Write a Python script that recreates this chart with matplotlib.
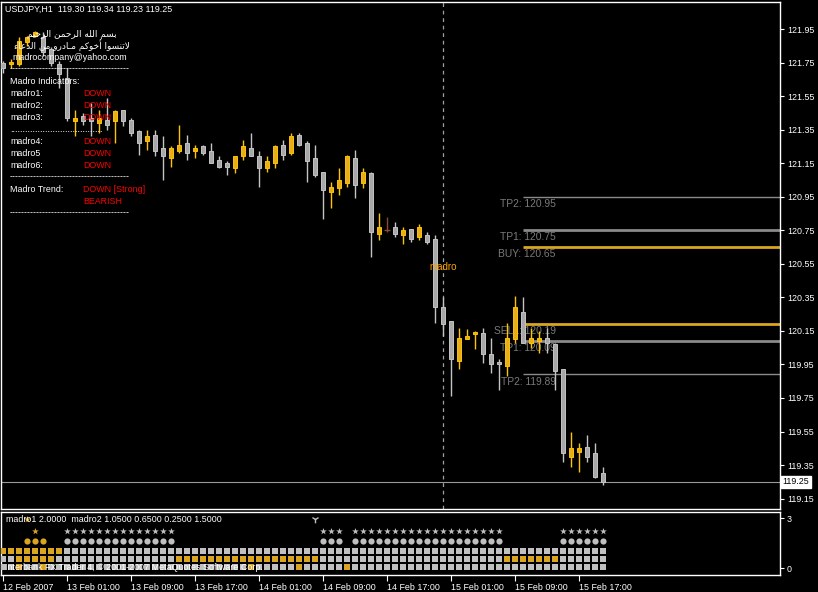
import matplotlib
matplotlib.use('Agg')
import matplotlib.pyplot as plt

plt.rcParams['font.family'] = ['Liberation Sans', 'DejaVu Sans']

# USDJPY H1 bars, 12 Feb 2007 17:00 .. 15 Feb 2007 20:00
opens = [121.75, 121.74, 121.74, 121.87, 121.91, 121.90, 121.83, 121.74, 121.66, 121.40,
         121.43, 121.42, 121.39, 121.41, 121.40, 121.47, 121.41, 121.34, 121.28, 121.32,
         121.24, 121.18, 121.22, 121.27, 121.22, 121.25, 121.22, 121.17, 121.15, 121.12,
         121.19, 121.24, 121.19, 121.12, 121.15, 121.26, 121.21, 121.32, 121.27, 121.18,
         121.10, 120.98, 121.00, 121.03, 121.18, 121.03, 121.09, 120.73, 120.75, 120.77,
         120.72, 120.76, 120.71, 120.72, 120.70, 120.29, 120.21, 119.97, 120.10, 120.13,
         120.14, 120.01, 119.96, 119.94, 120.10, 120.26, 120.08, 120.09, 120.11, 120.07,
         119.92, 119.40, 119.43, 119.46, 119.42, 119.30]
highs = [121.76, 121.77, 121.90, 121.91, 121.94, 121.93, 121.84, 121.76, 121.72, 121.47,
         121.45, 121.51, 121.47, 121.54, 121.47, 121.47, 121.42, 121.35, 121.35, 121.35,
         121.31, 121.25, 121.38, 121.32, 121.26, 121.26, 121.27, 121.19, 121.16, 121.19,
         121.29, 121.33, 121.22, 121.19, 121.26, 121.29, 121.33, 121.33, 121.28, 121.26,
         121.10, 121.04, 121.12, 121.20, 121.23, 121.12, 121.10, 120.85, 120.83, 120.80,
         120.77, 120.76, 120.79, 120.74, 120.72, 120.35, 120.21, 120.17, 120.16, 120.15,
         120.17, 120.11, 119.98, 120.20, 120.36, 120.35, 120.17, 120.15, 120.17, 120.08,
         119.92, 119.55, 119.48, 119.53, 119.48, 119.34]
lows = [121.69, 121.72, 121.73, 121.85, 121.90, 121.79, 121.73, 121.60, 121.40, 121.31,
        121.38, 121.31, 121.33, 121.35, 121.27, 121.37, 121.31, 121.20, 121.23, 121.19,
        121.05, 121.13, 121.21, 121.17, 121.18, 121.20, 121.15, 121.12, 121.08, 121.09,
        121.17, 121.19, 121.01, 121.10, 121.12, 121.17, 121.20, 121.25, 121.04, 121.07,
        120.82, 120.88, 120.96, 121.01, 120.94, 121.00, 120.59, 120.69, 120.74, 120.71,
        120.67, 120.68, 120.69, 120.67, 120.20, 120.12, 119.76, 119.92, 120.10, 120.04,
        119.96, 119.90, 119.80, 119.88, 120.08, 120.08, 120.05, 120.02, 120.02, 119.80,
        119.37, 119.34, 119.31, 119.37, 119.27, 119.23]
closes = [121.72, 121.75, 121.88, 121.90, 121.93, 121.81, 121.75, 121.68, 121.42, 121.42,
          121.40, 121.40, 121.42, 121.38, 121.46, 121.40, 121.33, 121.27, 121.31, 121.22,
          121.19, 121.24, 121.26, 121.21, 121.24, 121.21, 121.15, 121.13, 121.13, 121.19,
          121.25, 121.19, 121.12, 121.16, 121.25, 121.20, 121.31, 121.26, 121.16, 121.08,
          120.99, 121.01, 121.05, 121.19, 121.02, 121.10, 120.74, 120.77, 120.75, 120.73,
          120.75, 120.70, 120.77, 120.68, 120.29, 120.19, 119.98, 120.11, 120.12, 120.14,
          120.01, 119.95, 119.95, 120.11, 120.29, 120.08, 120.11, 120.11, 120.08, 119.91,
          119.42, 119.45, 119.45, 119.40, 119.28, 119.25]

date_bars = [0, 8, 16, 24, 32, 40, 48, 56, 64, 72]
date_labels = ['12 Feb 2007', '13 Feb 01:00', '13 Feb 09:00', '13 Feb 17:00', '14 Feb 01:00',
               '14 Feb 09:00', '14 Feb 17:00', '15 Feb 01:00', '15 Feb 09:00', '15 Feb 17:00']
price_ticks = [119.15, 119.35, 119.55, 119.75, 119.95, 120.15, 120.35,
               120.55, 120.75, 120.95, 121.15, 121.35, 121.55, 121.75, 121.95]

# trade levels drawn by the indicator
level_names = ['TP2', 'TP1', 'BUY', 'SELL', 'TP1', 'TP2']
level_values = [120.95, 120.75, 120.65, 120.19, 120.09, 119.89]

# madro sub-window signals (bar indices)
gold_top_star = [3]
gold_stars = [4]
gold_dots = [3, 4, 5]
gray_runs = [(8, 21), (40, 42), (44, 62), (70, 75)]   # stars + dots
arrow_bars = [39]
row1_gold = [0, 1, 2, 3, 4, 5, 6, 7]
row2_gold = [2, 3, 4, 5, 6] + list(range(22, 40)) + list(range(63, 70))
row3_gold = [2, 5, 31, 37, 43]

gold = '#daa520'
gray = '#c0c0c0'
W, H = 818, 592


def px(x, y):
    return x / W, 1 - y / H


# small arabic shaper (presentation forms, visual order) - no bidi support in matplotlib
AR_FORMS = {
    'ء': (0xFE80,), 'أ': (0xFE83, 0xFE84), 'ا': (0xFE8D, 0xFE8E),
    'ب': (0xFE8F, 0xFE90, 0xFE91, 0xFE92), 'ت': (0xFE95, 0xFE96, 0xFE97, 0xFE98),
    'ح': (0xFEA1, 0xFEA2, 0xFEA3, 0xFEA4), 'خ': (0xFEA5, 0xFEA6, 0xFEA7, 0xFEA8),
    'د': (0xFEA9, 0xFEAA), 'ر': (0xFEAD, 0xFEAE),
    'س': (0xFEB1, 0xFEB2, 0xFEB3, 0xFEB4), 'ع': (0xFEC9, 0xFECA, 0xFECB, 0xFECC),
    'ك': (0xFED9, 0xFEDA, 0xFEDB, 0xFEDC), 'ل': (0xFEDD, 0xFEDE, 0xFEDF, 0xFEE0),
    'م': (0xFEE1, 0xFEE2, 0xFEE3, 0xFEE4), 'ن': (0xFEE5, 0xFEE6, 0xFEE7, 0xFEE8),
    'ه': (0xFEE9, 0xFEEA, 0xFEEB, 0xFEEC), 'و': (0xFEED, 0xFEEE),
    'ي': (0xFEF1, 0xFEF2, 0xFEF3, 0xFEF4),
}


def joins(c):
    return c == 'ـ' or len(AR_FORMS.get(c, ())) > 1


def joins_next(c):
    return c == 'ـ' or len(AR_FORMS.get(c, ())) == 4


def shape_ar(s):
    out = []
    i = 0
    while i < len(s):
        c = s[i]
        prev = s[i - 1] if i > 0 else ' '
        nxt = s[i + 1] if i + 1 < len(s) else ' '
        if c == 'ل' and nxt in 'اأ':
            lig = {'ا': (0xFEFB, 0xFEFC), 'أ': (0xFEF7, 0xFEF8)}[nxt]
            out.append(chr(lig[1] if joins_next(prev) else lig[0]))
            i += 2
            continue
        if c in AR_FORMS:
            f = AR_FORMS[c]
            p = joins_next(prev) and len(f) > 1
            n = joins(nxt) and len(f) == 4
            if p and n:
                out.append(chr(f[3]))
            elif p:
                out.append(chr(f[1]))
            elif n:
                out.append(chr(f[2]))
            else:
                out.append(chr(f[0]))
        else:
            out.append(c)
        i += 1
    return ''.join(reversed(out))


fig = plt.figure(figsize=(W / 100, H / 100), dpi=100, facecolor='black')
ax = fig.add_axes([1 / W, 1 - 509 / H, 779 / W, 507 / H], facecolor='black')
ax2 = fig.add_axes([1 / W, 1 - 575 / H, 779 / W, 63 / H], facecolor='black', sharex=ax)

# candles
for i in range(len(opens)):
    o, h, l, c = opens[i], highs[i], lows[i], closes[i]
    if c > o:
        body, edge = '#e8ad1e', '#ffc400'
    elif c < o:
        body, edge = '#a8a8a8', '#c4c4c4'
    else:
        body, edge = '#8b4a2b', '#8b4a2b'
    ax.vlines(i, l, h, color=edge, lw=1, zorder=3)
    if c == o:
        ax.hlines(c, i - 0.35, i + 0.35, color=edge, lw=1, zorder=3)
    else:
        ax.bar(i, max(abs(c - o), 0.012), bottom=min(o, c), width=0.62,
               color=body, edgecolor=edge, lw=0.7, zorder=4)

# indicator levels
lvl_color = ['#8a8a8a', '#8a8a8a', gold, gold, '#8a8a8a', '#8a8a8a']
lvl_width = [1, 2, 2, 2, 2, 1]
for name, v, col, lw in zip(level_names, level_values, lvl_color, lvl_width):
    ax.hlines(v, 65, 98, color=col, lw=lw, zorder=2)
    ax.text(69.1, v - 0.013, f'{name}: {v:.2f}', color='#7a7a7a', fontsize=7.4,
            ha='right', va='top', zorder=2)

ax.axvline(55, color='#a0a0a0', lw=0.9, ls=(0, (3, 3)), zorder=1)
ax.axhline(closes[-1], color='#9a9a9a', lw=0.8, zorder=1)
ax.text(55, 120.53, 'madro', color='#ffa500', fontsize=7, ha='center', va='center', zorder=5)
ax.text(1.003, closes[-1], f'{closes[-1]:.2f}', transform=ax.get_yaxis_transform(),
        color='black', fontsize=6.4, ha='left', va='center', clip_on=False, zorder=10,
        bbox=dict(facecolor='white', edgecolor='white', pad=1.2))

ax.set_xlim(-0.25, 97.125)
ax.set_ylim(119.088, 122.111)
ax.set_yticks(price_ticks)
ax.set_yticklabels([f'{t:.2f}' for t in price_ticks])
ax.yaxis.tick_right()
ax.tick_params(axis='y', colors='white', labelsize=6.4, length=3, pad=2)
ax.tick_params(axis='x', bottom=False, labelbottom=False)
for sp in ax.spines.values():
    sp.set_color('white')
    sp.set_linewidth(1)

# sub window
row_y = [0.06, 0.54, 1.02, 1.62, 2.22, 2.94]
all_bars = list(range(len(opens)))
for row, gold_list in zip(row_y[:3], [row3_gold, row2_gold, row1_gold]):
    cols = [gold if b in gold_list else gray for b in all_bars]
    ax2.scatter(all_bars, [row] * len(all_bars), marker='s', s=19, c=cols, lw=0, zorder=3)
gray_bars = [b for a, z in gray_runs for b in range(a, z + 1)]
ax2.scatter(gray_bars, [row_y[3]] * len(gray_bars), marker='o', s=20, c=gray, lw=0)
ax2.scatter(gray_bars, [row_y[4]] * len(gray_bars), marker='*', s=26, c=gray, lw=0)
ax2.scatter(gold_dots, [row_y[3]] * len(gold_dots), marker='o', s=20, c=gold, lw=0)
ax2.scatter(gold_stars, [row_y[4]] * len(gold_stars), marker='*', s=26, c=gold, lw=0)
ax2.scatter(gold_top_star, [row_y[5]] * len(gold_top_star), marker='*', s=26, c=gold, lw=0)
ax2.scatter(arrow_bars, [row_y[5]] * len(arrow_bars), marker='1', s=30, c=gray, lw=1)

ax2.set_ylim(-0.42, 3.36)
ax2.set_yticks([0, 3])
ax2.set_yticklabels(['0', '3'])
ax2.yaxis.tick_right()
ax2.tick_params(axis='y', colors='white', labelsize=6.4, length=3, pad=2)
ax2.set_xticks(date_bars)
ax2.set_xticklabels(date_labels, ha='left')
ax2.tick_params(axis='x', colors='white', labelsize=6.4, length=4, pad=1.5)
for sp in ax2.spines.values():
    sp.set_color('white')
    sp.set_linewidth(1)

# texts on the chart
fs = 6.4
fig.text(*px(5, 9), f'USDJPY,H1  {opens[-1]:.2f} {highs[-1]:.2f} {lows[-1]:.2f} {closes[-1]:.2f}',
         color='white', fontsize=fs, va='center')
fig.text(*px(72, 34), shape_ar('بسم الله الرحمن الرحيم'), color='white', fontsize=fs,
         ha='center', va='center', family=['DejaVu Sans'])
fig.text(*px(72, 46), shape_ar('لاتنسوا أخوكم مـادرو من الدعاء'), color='white', fontsize=fs,
         ha='center', va='center', family=['DejaVu Sans'])
fig.text(*px(12, 57), 'madrocompany@yahoo.com', color='white', fontsize=fs, va='center')

panel = [
    (10, 69, '-' * 40, 'white'), (10, 81, 'Madro Indicators:', 'white'),
    (10, 93, 'madro1:', 'white'), (83, 93, 'DOWN', 'red'),
    (10, 105, 'madro2:', 'white'), (83, 105, 'DOWN', 'red'),
    (10, 117, 'madro3:', 'white'), (83, 117, 'DOWN', 'red'),
    (10, 129, '.' * 37, 'white'),
    (10, 141, 'madro4:', 'white'), (83, 141, 'DOWN', 'red'),
    (10, 153, 'madro5', 'white'), (83, 153, 'DOWN', 'red'),
    (10, 165, 'madro6:', 'white'), (83, 165, 'DOWN', 'red'),
    (10, 177, '-' * 40, 'white'),
    (10, 189, 'Madro Trend:', 'white'), (83, 190, 'DOWN [Strong]', 'red'),
    (83, 202, 'BEARISH', 'red'), (10, 213, '-' * 40, 'white'),
]
for x, y, t, c in panel:
    fig.text(*px(x, y), t, color=c, fontsize=fs, va='center')

fig.text(*px(6, 520), 'madro1 2.0000  madro2 1.0500 0.6500 0.2500 1.5000',
         color='white', fontsize=fs, va='center')
fig.text(*px(5, 568), 'Interbank FX Trader 4, © 2001-2007 MetaQuotes Software Corp.',
         color='white', fontsize=fs, va='center')

fig.savefig('out.png', dpi=100, facecolor='black')
